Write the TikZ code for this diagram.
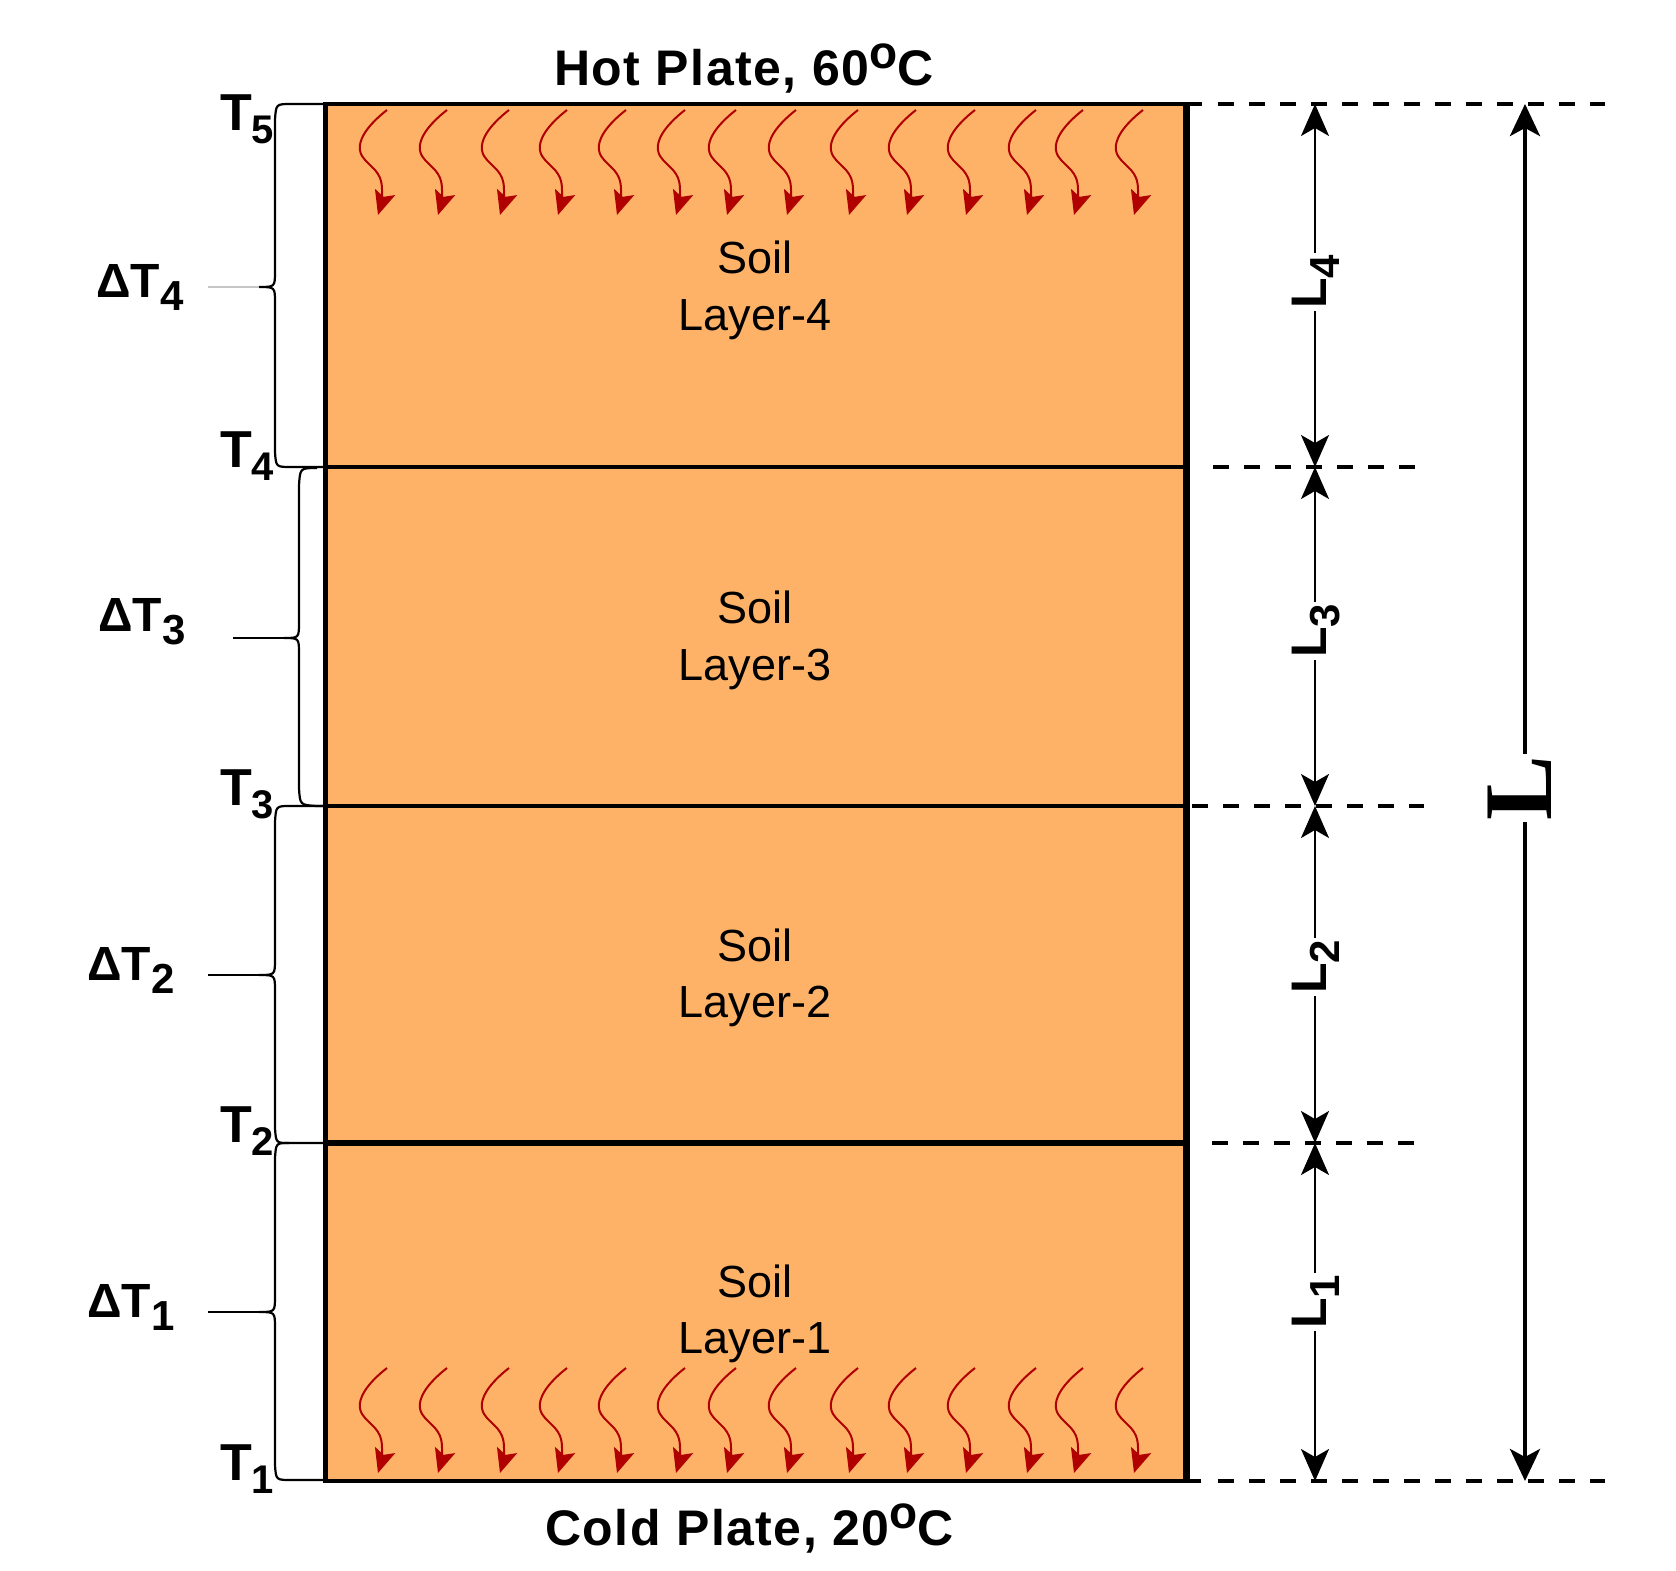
\documentclass[tikz,border=0pt]{standalone}
\usepackage{fontspec}
\setmainfont{Liberation Sans}
\newfontfamily\serifbold{Liberation Serif}
\usetikzlibrary{arrows.meta}
\newcommand\fsz[1]{\fontsize{#1}{#1}\selectfont}
\definecolor{soilfill}{RGB}{253,178,104}
\definecolor{heatred}{RGB}{176,0,0}
\begin{document}
\begin{tikzpicture}[x=1pt,y=-1pt,
  brace/.style={line width=2.2pt, black},
  tickline/.style={line width=2.2pt},
  border/.style={line width=4.5pt},
  dashline/.style={line width=4pt, dash pattern=on 16pt off 15pt},
  dimarrow/.style={line width=2pt, {Stealth[length=32pt,width=28pt,inset=8pt]}-{Stealth[length=32pt,width=28pt,inset=8pt]}},
  bigdim/.style={line width=4pt, {Stealth[length=32pt,width=30pt,inset=8pt]}-{Stealth[length=32pt,width=30pt,inset=8pt]}},
  heat/.style={line width=2pt, heatred, -{Stealth[length=24pt,width=21pt,inset=5pt]}},
  tlabel/.style={anchor=base west, inner sep=0pt, font=\fsz{52}\bfseries},
  dtlabel/.style={anchor=base west, inner sep=0pt, font=\fsz{48}\bfseries},
  soiltext/.style={anchor=base, inner sep=0pt, font=\fsz{45}},
  plate/.style={anchor=base west, inner sep=0pt, font=\fsz{50}\bfseries\addfontfeature{LetterSpace=3}},
  llabel/.style={rotate=90, fill=white, inner sep=2pt, font=\fsz{50}\bfseries}
]
\useasboundingbox (0,0) rectangle (1676,1571);

% soil column
\fill[soilfill] (325,104) rectangle (1186,1481);

% heat arrows
\foreach \hx in {387,447,509,567,626,685,736,796,858,916,975,1036,1083,1143}{
  \foreach \hy in {110,1368}{
    \draw[heat] (\hx,\hy) .. controls ({\hx-18},{\hy+14}) and ({\hx-33},{\hy+32}) .. ({\hx-25},{\hy+46})
      .. controls ({\hx-17},{\hy+58}) and ({\hx-5},{\hy+60}) .. ({\hx-5},{\hy+80})
      .. controls ({\hx-5},{\hy+92}) .. ({\hx-9},{\hy+105});
  }
}

% braces
\draw[brace] (325,104) -- (291,104) .. controls (276,104) .. (275,120) -- (275,271)
  .. controls (275,287) .. (259,287) coordinate (b4) .. controls (275,287) .. (275,303)
  -- (275,452) .. controls (276,467) .. (291,467) -- (325,467);
\draw[brace] (317,468) .. controls (300,468) .. (299,486) -- (299,622)
  .. controls (299,638) .. (284,638) coordinate (b3) .. controls (299,638) .. (299,654)
  -- (299,788) .. controls (300,805) .. (317,806) -- (325,806);
\draw[brace] (325,806) -- (290,806) .. controls (276,806) .. (275,822) -- (275,959)
  .. controls (275,975) .. (259,975) coordinate (b2) .. controls (275,975) .. (275,991)
  -- (275,1128) .. controls (276,1143) .. (289,1143) -- (325,1143);
\draw[brace] (289,1143) .. controls (276,1143) .. (275,1158) -- (275,1296)
  .. controls (275,1312) .. (259,1312) coordinate (b1) .. controls (275,1312) .. (275,1328)
  -- (275,1465) .. controls (276,1480) .. (291,1480) -- (325,1480);

% tick lines
\coordinate (k4) at (208,287);
\coordinate (k3) at (233,638);
\coordinate (k2) at (208,975);
\coordinate (k1) at (208,1312);
\draw[tickline, gray!45] (k4) -- (b4);
\draw[tickline] (k3) -- (b3);
\draw[tickline] (k2) -- (b2);
\draw[tickline] (k1) -- (b1);

% box borders
\draw[border] (325,104) -- (1202,104);
\draw[border] (325,467) -- (1186,467);
\draw[border] (325,806) -- (1186,806);
\draw[line width=5.5pt] (325,1143) -- (1186,1143);
\draw[border] (325,1481) -- (1201,1481);
\draw[line width=5pt] (325,102) -- (325,1483);
\draw[line width=7pt] (1186,102) -- (1186,1483);

% dashed extension lines
\draw[dashline] (1218,104) -- (1605,104);
\draw[dashline] (1213,467) -- (1418,467);
\draw[dashline] (1192,806) -- (1424,806);
\draw[dashline] (1212,1143) -- (1418,1143);
\draw[dashline] (1218,1481) -- (1605,1481);

% dimension arrows
\coordinate (d5) at (1315,104);
\coordinate (d4) at (1315,467);
\coordinate (d3) at (1315,806);
\coordinate (d2) at (1315,1143);
\coordinate (d1) at (1315,1481);
\draw[dimarrow] (d5) -- (d4);
\draw[dimarrow] (d4) -- (d3);
\draw[dimarrow] (d3) -- (d2);
\draw[dimarrow] (d2) -- (d1);
\coordinate (Ltop) at (1525,104);
\coordinate (Lbot) at (1525,1481);
\draw[bigdim] (Ltop) -- (Lbot);

\node[llabel] (l4) at (1316,282) {L\raisebox{-13pt}{\fsz{42}4}};
\node[llabel] (l3) at (1316,631) {L\raisebox{-13pt}{\fsz{42}3}};
\node[llabel] (l2) at (1316,967) {L\raisebox{-13pt}{\fsz{42}2}};
\node[llabel] (l1) at (1316,1302) {L\raisebox{-13pt}{\fsz{42}1}};
\node[rotate=90, fill=white, inner sep=2pt, font=\fsz{97}\serifbold\bfseries] (Lbig) at (1520,788) {L};

% plate labels
\node[plate] (hot) at (554,85) {Hot Plate, 60\raisebox{17pt}{\fsz{46}o}C};
\node[plate] (cold) at (545,1545) {Cold Plate, 20\raisebox{17pt}{\fsz{46}o}C};

% soil labels
\node[soiltext] (s4) at (755,273) {Soil};
\node[soiltext] (y4) at (755,330) {Layer-4};
\node[soiltext] (s3) at (755,623) {Soil};
\node[soiltext] (y3) at (755,680) {Layer-3};
\node[soiltext] (s2) at (755,961) {Soil};
\node[soiltext] (y2) at (755,1017) {Layer-2};
\node[soiltext] (s1) at (755,1297) {Soil};
\node[soiltext] (y1) at (755,1353) {Layer-1};

% temperature labels
\node[tlabel] (t5) at (220,130) {T\raisebox{-13pt}{\fsz{40}5}};
\node[tlabel] (t4) at (220,467) {T\raisebox{-13pt}{\fsz{40}4}};
\node[tlabel] (t3) at (220,805) {T\raisebox{-13pt}{\fsz{40}3}};
\node[tlabel] (t2) at (220,1142) {T\raisebox{-13pt}{\fsz{40}2}};
\node[tlabel] (t1) at (220,1480) {T\raisebox{-13pt}{\fsz{40}1}};

% delta T labels
\node[dtlabel] (dt4) at (96,297) {ΔT\raisebox{-13pt}{\fsz{42}4}};
\node[dtlabel] (dt3) at (98,631) {ΔT\raisebox{-13pt}{\fsz{42}3}};
\node[dtlabel] (dt2) at (87,980) {ΔT\raisebox{-13pt}{\fsz{42}2}};
\node[dtlabel] (dt1) at (87,1317) {ΔT\raisebox{-13pt}{\fsz{42}1}};
\end{tikzpicture}
\end{document}
